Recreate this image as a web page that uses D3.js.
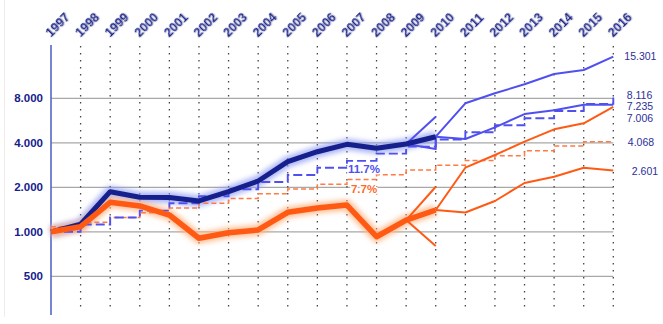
<!DOCTYPE html>
<html><head><meta charset="utf-8">
<script src="https://cdn.jsdelivr.net/npm/d3@7/dist/d3.min.js"></script>
<style>
html,body{margin:0;padding:0;background:#fff;}
svg{display:block;font-family:"Liberation Sans",Arial,sans-serif;}
</style></head>
<body><svg id="c" width="663" height="324"></svg>
<script>
// ---- data ----
const years = [1997,1998,1999,2000,2001,2002,2003,2004,2005,2006,2007,2008,2009,2010,2011,2012,2013,2014,2015,2016];
const yTicks = [500,1000,2000,4000,8000];
const histYears = [1997,1998,1999,2000,2001,2002,2003,2004,2005,2006,2007,2008,2009,2010];
const navyHist   = [1000,1124,1868,1711,1705,1616,1868,2206,2980,3482,3907,3671,3926,4398];
const orangeHist = [1000,1083,1583,1495,1299,904,986,1029,1355,1449,1518,926,1201,1404];
const futYears = [2010,2011,2012,2013,2014,2015,2016];
const blueHigh   = [4398,7401,8646,9952,11683,12434,15301];
const blueMid    = [4398,4243,5090,6260,6650,7235,7235];
const orangeHigh = [1404,2714,3308,4069,4935,5419,7006];
const orangeLow  = [1404,1351,1616,2139,2359,2714,2601];
const branchYears = [2009,2010];
const blueBranchUp = [3926,6009];
const blueBranchDownYears = [2009,2010,2010];
const blueBranchDown = [3926,3632,4398];
const orangeBranchUp = [1201,2018];
const orangeBranchDown = [1201,801];
const blueStep   = [1000,1120,1250,1390,1560,1740,1940,2170,2420,2710,3020,3380,3770,4210,4710,5260,5870,6560,7330,8116];
const orangeStep = [1080,1160,1250,1345,1450,1560,1680,1810,1950,2100,2260,2435,2620,2825,3040,3275,3530,3800,4068,4068];
const endLabels = [15301,8116,7235,7006,4068,2601];
const rateLabels = ["11.7%","7.7%"];

// ---- drawing ----
const svg = d3.select("#c");
const x = d3.scaleLinear().domain([1997,2016]).range([51,613.3]);
const y = d3.scaleLog().base(2).domain([500,8000]).range([276.3,98.3]);
const loc = d3.formatLocale({decimal:",",thousands:".",grouping:[3],currency:["",""]});
const fmt = loc.format(",");

const NAVY="#16208c", BLUE="#5050f0", ORANGE="#ff5a14";

const defs = svg.append("defs");
defs.append("filter").attr("id","glow").attr("x","-20%").attr("y","-50%").attr("width","140%").attr("height","200%")
  .append("feGaussianBlur").attr("stdDeviation",2.6);
defs.append("filter").attr("id","txt").attr("x","-20%").attr("y","-20%").attr("width","140%").attr("height","140%")
  .append("feDropShadow").attr("dx",0.6).attr("dy",0.6).attr("stdDeviation",0.7).attr("flood-color","#9aa0c8").attr("flood-opacity",0.8);

// faint frame line
svg.append("line").attr("x1",4.5).attr("x2",4.5).attr("y1",0).attr("y2",317).attr("stroke","#f3eaea");

// horizontal gridlines
svg.append("g").selectAll("line").data(yTicks).join("line")
  .attr("x1",x(1997)).attr("x2",x(2016)).attr("y1",d=>y(d)).attr("y2",d=>y(d))
  .attr("stroke","#a8a8a8").attr("stroke-width",1.3);

// dotted verticals
svg.append("g").selectAll("line").data(years.slice(1)).join("line")
  .attr("x1",d=>x(d)).attr("x2",d=>x(d)).attr("y1",46).attr("y2",311)
  .attr("stroke","#444").attr("stroke-width",1.3).attr("stroke-dasharray","1.4 5.6");

// y axis line
svg.append("line").attr("x1",x(1997)).attr("x2",x(1997)).attr("y1",45).attr("y2",315)
  .attr("stroke","#5566c4").attr("stroke-width",1.6);

// y labels
const ya = svg.append("g").attr("transform",`translate(${x(1997)},0)`)
  .call(d3.axisLeft(y).tickValues(yTicks).tickFormat(fmt).tickSize(0).tickPadding(8));
ya.select(".domain").remove();
ya.selectAll("text").attr("font-size",11.5).attr("font-weight","bold").attr("fill",NAVY)
  .attr("font-family","'Liberation Sans',Arial,sans-serif");

// year labels
const xa = svg.append("g").attr("transform","translate(0,37)")
  .call(d3.axisTop(x).tickValues(years).tickFormat(d=>String(d)).tickSize(0).tickPadding(0));
xa.select(".domain").remove();
xa.selectAll("text").attr("x",-1).attr("y",0).attr("dy",0).attr("text-anchor","start")
  .attr("transform","rotate(-45)").attr("font-size",12.5).attr("font-weight","bold").attr("fill",NAVY)
  .attr("filter","url(#txt)").attr("font-family","'Liberation Sans',Arial,sans-serif");

const line = (xs) => d3.line().x((d,i)=>x(xs[i])).y(d=>y(d));
const step = d3.line().x((d,i)=>x(years[i])).y(d=>y(d)).curve(d3.curveStepAfter);

// glows of thick lines
svg.append("path").attr("d",line(histYears)(navyHist)).attr("fill","none")
  .attr("stroke","#8f9cf2").attr("stroke-width",11).attr("stroke-linejoin","round").attr("opacity",0.75).attr("filter","url(#glow)");
svg.append("path").attr("d",line(histYears)(orangeHist)).attr("fill","none")
  .attr("stroke","#ffb482").attr("stroke-width",11).attr("stroke-linejoin","round").attr("opacity",0.8).attr("filter","url(#glow)");

// dashed step lines
svg.append("path").attr("d",step(orangeStep)).attr("fill","none")
  .attr("stroke","#ff7a45").attr("stroke-width",1.5).attr("stroke-dasharray","5 3");
svg.append("path").attr("d",step(blueStep)).attr("fill","none")
  .attr("stroke",BLUE).attr("stroke-width",1.9).attr("stroke-dasharray","9 4");

// thin scenario lines
const thin = (xs, vals, col) => svg.append("path").attr("d",line(xs)(vals)).attr("fill","none")
  .attr("stroke",col).attr("stroke-width",2).attr("stroke-linejoin","round");
thin(futYears, blueHigh, BLUE);
thin(futYears, blueMid, BLUE);
thin(branchYears, blueBranchUp, BLUE);
thin(blueBranchDownYears, blueBranchDown, BLUE);
thin(futYears, orangeHigh, ORANGE);
thin(futYears, orangeLow, ORANGE);
thin(branchYears, orangeBranchUp, ORANGE);
thin(branchYears, orangeBranchDown, ORANGE);

// thick historical lines
svg.append("path").attr("d",line(histYears)(navyHist)).attr("fill","none")
  .attr("stroke",NAVY).attr("stroke-width",5).attr("stroke-linejoin","round");
svg.append("path").attr("d",line(histYears)(orangeHist)).attr("fill","none")
  .attr("stroke",ORANGE).attr("stroke-width",5.5).attr("stroke-linejoin","round");

// rate labels
const rl = svg.append("g").attr("font-size",11.5).attr("font-weight","bold");
rl.append("text").attr("x",x(2007)+1).attr("y",y(blueStep[9])+5).text(rateLabels[0])
  .attr("fill",BLUE).attr("stroke","#fff").attr("stroke-width",3).attr("paint-order","stroke");
rl.append("text").attr("x",x(2007)+4).attr("y",y(orangeStep[9])+9).text(rateLabels[1])
  .attr("fill","#ff6a2a").attr("stroke","#fff").attr("stroke-width",3).attr("paint-order","stroke");

// end labels
const ldx = [11,13.5,13.5,13.5,14.5,18.5];
const ldy = [0,-2,2,12,1,0.5];
svg.append("g").selectAll("text").data(endLabels).join("text")
  .attr("x",(d,i)=>x(2016)+ldx[i]).attr("y",(d,i)=>y(d)+ldy[i]).attr("dy","0.35em")
  .attr("font-size",10.5).attr("fill","#2c2f98").text(d=>fmt(d));
</script></body></html>
